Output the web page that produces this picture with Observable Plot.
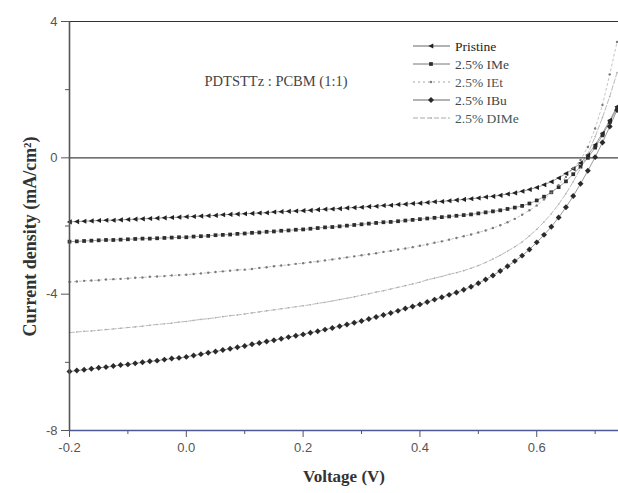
<!DOCTYPE html>
<html><head><meta charset="utf-8">
<script src="https://cdn.jsdelivr.net/npm/d3@7"></script>
<script src="https://cdn.jsdelivr.net/npm/@observablehq/plot@0.6"></script>
<style>body{margin:0;background:#fff} #chart{width:618px;height:493px}</style>
</head><body><div id="chart"></div><script>
const voltage = [-0.2,-0.1875,-0.175,-0.1625,-0.15,-0.1375,-0.125,-0.1125,-0.1,-0.0875,
 -0.075,-0.0625,-0.05,-0.0375,-0.025,-0.0125,0,0.0125,0.025,0.0375,
 0.05,0.0625,0.075,0.0875,0.1,0.1125,0.125,0.1375,0.15,0.1625,
 0.175,0.1875,0.2,0.2125,0.225,0.2375,0.25,0.2625,0.275,0.2875,
 0.3,0.3125,0.325,0.3375,0.35,0.3625,0.375,0.3875,0.4,0.4125,
 0.425,0.4375,0.45,0.4625,0.475,0.4875,0.5,0.5125,0.525,0.5375,
 0.55,0.5625,0.575,0.5875,0.6,0.6125,0.625,0.6375,0.65,0.6625,
 0.675,0.6875,0.7,0.7125,0.725,0.7375];
const pristine = [-1.88,-1.87,-1.86,-1.85,-1.84,-1.83,-1.83,-1.82,-1.81,-1.80,
 -1.79,-1.78,-1.77,-1.76,-1.75,-1.74,-1.73,-1.72,-1.71,-1.70,
 -1.69,-1.67,-1.66,-1.65,-1.64,-1.63,-1.62,-1.61,-1.59,-1.58,
 -1.57,-1.56,-1.55,-1.54,-1.52,-1.51,-1.50,-1.49,-1.47,-1.46,
 -1.45,-1.43,-1.42,-1.40,-1.39,-1.37,-1.36,-1.34,-1.33,-1.31,
 -1.29,-1.28,-1.26,-1.24,-1.22,-1.20,-1.18,-1.15,-1.13,-1.10,
 -1.06,-1.03,-0.98,-0.93,-0.87,-0.79,-0.70,-0.59,-0.46,-0.32,
 -0.15,0.08,0.38,0.72,1.10,1.50];
const iMe = [-2.46,-2.45,-2.44,-2.43,-2.42,-2.41,-2.41,-2.40,-2.39,-2.38,
 -2.37,-2.37,-2.36,-2.35,-2.34,-2.33,-2.33,-2.31,-2.30,-2.29,
 -2.27,-2.26,-2.25,-2.23,-2.22,-2.20,-2.19,-2.17,-2.16,-2.14,
 -2.13,-2.11,-2.10,-2.08,-2.06,-2.04,-2.03,-2.01,-1.99,-1.97,
 -1.95,-1.93,-1.91,-1.89,-1.88,-1.86,-1.84,-1.82,-1.80,-1.78,
 -1.76,-1.74,-1.72,-1.70,-1.68,-1.66,-1.63,-1.60,-1.57,-1.54,
 -1.50,-1.46,-1.41,-1.34,-1.25,-1.14,-1.01,-0.86,-0.69,-0.48,
 -0.26,0.00,0.30,0.66,1.05,1.45];
const iEt = [-3.64,-3.63,-3.61,-3.60,-3.59,-3.57,-3.56,-3.55,-3.54,-3.52,
 -3.51,-3.49,-3.48,-3.47,-3.45,-3.44,-3.43,-3.41,-3.39,-3.37,
 -3.35,-3.33,-3.31,-3.29,-3.28,-3.26,-3.23,-3.21,-3.18,-3.16,
 -3.14,-3.11,-3.09,-3.06,-3.04,-3.01,-2.98,-2.95,-2.92,-2.89,
 -2.86,-2.83,-2.80,-2.76,-2.73,-2.69,-2.66,-2.62,-2.58,-2.54,
 -2.49,-2.45,-2.40,-2.35,-2.30,-2.25,-2.19,-2.13,-2.06,-1.98,
 -1.89,-1.79,-1.67,-1.54,-1.40,-1.22,-1.02,-0.80,-0.56,-0.30,
 -0.06,0.32,0.86,1.55,2.45,3.40];
const iBu = [-6.27,-6.24,-6.22,-6.19,-6.16,-6.14,-6.11,-6.08,-6.06,-6.03,
 -6.00,-5.97,-5.95,-5.92,-5.89,-5.87,-5.84,-5.80,-5.76,-5.72,
 -5.68,-5.64,-5.60,-5.56,-5.52,-5.47,-5.43,-5.39,-5.35,-5.31,
 -5.26,-5.22,-5.18,-5.13,-5.09,-5.04,-4.99,-4.94,-4.89,-4.84,
 -4.79,-4.73,-4.67,-4.61,-4.55,-4.49,-4.42,-4.36,-4.30,-4.23,
 -4.16,-4.09,-4.02,-3.95,-3.87,-3.78,-3.68,-3.57,-3.45,-3.32,
 -3.18,-3.03,-2.87,-2.69,-2.48,-2.26,-2.02,-1.75,-1.45,-1.12,
 -0.76,-0.38,0.02,0.45,0.92,1.40];
const dIMe = [-5.13,-5.11,-5.09,-5.08,-5.06,-5.04,-5.02,-5.00,-4.98,-4.96,
 -4.94,-4.91,-4.89,-4.87,-4.85,-4.82,-4.80,-4.77,-4.74,-4.72,
 -4.69,-4.66,-4.63,-4.61,-4.58,-4.55,-4.52,-4.49,-4.46,-4.43,
 -4.40,-4.37,-4.34,-4.31,-4.27,-4.24,-4.20,-4.16,-4.12,-4.08,
 -4.03,-3.99,-3.94,-3.90,-3.85,-3.80,-3.75,-3.70,-3.65,-3.58,
 -3.53,-3.48,-3.42,-3.37,-3.31,-3.24,-3.16,-3.07,-2.97,-2.86,
 -2.74,-2.61,-2.47,-2.29,-2.10,-1.88,-1.64,-1.36,-1.05,-0.70,
 -0.31,0.12,0.62,1.18,1.80,2.50];

const seriesNames = ["Pristine", "2.5% IMe", "2.5% IEt", "2.5% IBu", "2.5% DIMe"];
const seriesValues = [pristine, iMe, iEt, iBu, dIMe];
const xTicks = [-0.2, 0, 0.2, 0.4, 0.6];
const xMinorTicks = [-0.1, 0.1, 0.3, 0.5, 0.7];
const yTicks = [4, 0, -4, -8];
const yMinorTicks = [2, -2, -6];
const xLabel = "Voltage (V)";
const yLabel = "Current density (mA/cm²)";
const annotation = "PDTSTTz : PCBM (1:1)";

// custom symbols
const leftTriangle = {draw(ctx, size) {const r = Math.sqrt(size / Math.PI);
  ctx.moveTo(-r, 0); ctx.lineTo(r * 0.85, -r * 0.95); ctx.lineTo(r * 0.85, r * 0.95); ctx.closePath();}};
const square = {draw(ctx, size) {const r = Math.sqrt(size / Math.PI) * 0.85;
  ctx.moveTo(-r, -r); ctx.lineTo(r, -r); ctx.lineTo(r, r); ctx.lineTo(-r, r); ctx.closePath();}};
const diamond = {draw(ctx, size) {const r = Math.sqrt(size / Math.PI) * 1.1;
  ctx.moveTo(0, -r); ctx.lineTo(r, 0); ctx.lineTo(0, r); ctx.lineTo(-r, 0); ctx.closePath();}};
const circle = {draw(ctx, size) {const r = Math.sqrt(size / Math.PI);
  ctx.moveTo(r, 0); ctx.arc(0, 0, r, 0, 2 * Math.PI);}};

const styles = [
  {symbol: leftTriangle, r: 2.7, fill: "#222", line: "#555", width: 0.6, dash: null, text: "#222"},
  {symbol: square, r: 2.2, fill: "#2e2e2e", line: "#666", width: 0.6, dash: null, text: "#444"},
  {symbol: circle, r: 1.2, fill: "#7a7a7a", line: "#999", width: 0.6, dash: "2,3", text: "#555"},
  {symbol: diamond, r: 2.7, fill: "#2a2a2a", line: "#555", width: 0.6, dash: null, text: "#444"},
  {symbol: circle, r: 0.8, fill: "#aaa", line: "#aaa", width: 0.8, dash: "5,2", text: "#3f5a55"}
];

const rows = seriesNames.map((name, i) => voltage.map((v, k) => ({V: v, J: seriesValues[i][k], series: name})));

const seriesMarks = [];
rows.forEach((data, i) => {
  const s = styles[i];
  seriesMarks.push(Plot.line(data, {x: "V", y: "J", stroke: s.line, strokeWidth: s.width, strokeDasharray: s.dash}));
});
rows.forEach((data, i) => {
  const s = styles[i];
  seriesMarks.push(Plot.dot(data, {x: "V", y: "J", symbol: s.symbol, r: s.r, fill: s.fill, stroke: "none"}));
});

const serif = "'Liberation Serif', 'Times New Roman', serif";
const chart = Plot.plot({
  width: 618, height: 493,
  marginLeft: 69, marginRight: 0, marginTop: 21, marginBottom: 63,
  x: {domain: [-0.2, 0.74]},
  y: {domain: [-8, 4]},
  style: {fontFamily: "'Liberation Sans', Arial, sans-serif", fontSize: "13px", background: "#fff", overflow: "visible"},
  marks: [
    Plot.ruleY([4], {stroke: "#333", strokeWidth: 1.2}),
    Plot.ruleY([0], {stroke: "#444", strokeWidth: 1.2}),
    Plot.axisX({ticks: xTicks, tickSize: 7, tickPadding: 5, tickFormat: d => d.toFixed(1), fontSize: 13, color: "#555", label: null}),
    Plot.axisX({ticks: xMinorTicks, tickSize: 4, tickFormat: () => "", color: "#555", label: null}),
    Plot.axisY({ticks: yTicks, tickSize: 8, tickPadding: 4, tickFormat: d => String(d), fontSize: 13, color: "#555", label: null}),
    Plot.axisY({ticks: yMinorTicks, tickSize: 4, tickFormat: () => "", color: "#555", label: null}),
    ...seriesMarks,
    Plot.ruleY([-8], {stroke: "#4a5894", strokeWidth: 1.3}),
    Plot.ruleX([-0.2], {stroke: "#555", strokeWidth: 1.6}),
    Plot.text([xLabel], {frameAnchor: "bottom", dy: 51, fontFamily: serif, fontWeight: "bold", fontSize: 17, fill: "#333"}),
    Plot.text([yLabel], {frameAnchor: "top-left", dx: -46, dy: 215, rotate: -90, textAnchor: "middle", fontFamily: serif, fontWeight: "bold", fontSize: 18, fill: "#333"}),
    Plot.text([annotation], {frameAnchor: "top-left", dx: 135, dy: 54, textAnchor: "start", fontFamily: serif, fontSize: 14.5, fill: "#444"})
  ]
});

// legend (inside the plot area, upper right)
const svg = d3.select(chart);
const lg = svg.append("g").attr("transform", "translate(413,46)").attr("text-anchor", "start");
seriesNames.forEach((name, i) => {
  const s = styles[i];
  const g = lg.append("g").attr("transform", `translate(0,${i * 18})`);
  g.append("line").attr("x1", 0).attr("x2", 37).attr("y1", 0).attr("y2", 0)
    .attr("stroke", s.line).attr("stroke-width", s.width + 0.3).attr("stroke-dasharray", s.dash);
  g.append("path").attr("transform", "translate(18,0)")
    .attr("d", d3.symbol(s.symbol, Math.PI * s.r * s.r)()).attr("fill", s.fill);
  g.append("text").attr("x", 42).attr("y", 0).attr("dy", "0.35em").attr("text-anchor", "start")
    .attr("font-family", serif).attr("font-size", 13.5)
    .attr("fill", s.text).text(name);
});

document.getElementById("chart").append(chart);
</script></body></html>
